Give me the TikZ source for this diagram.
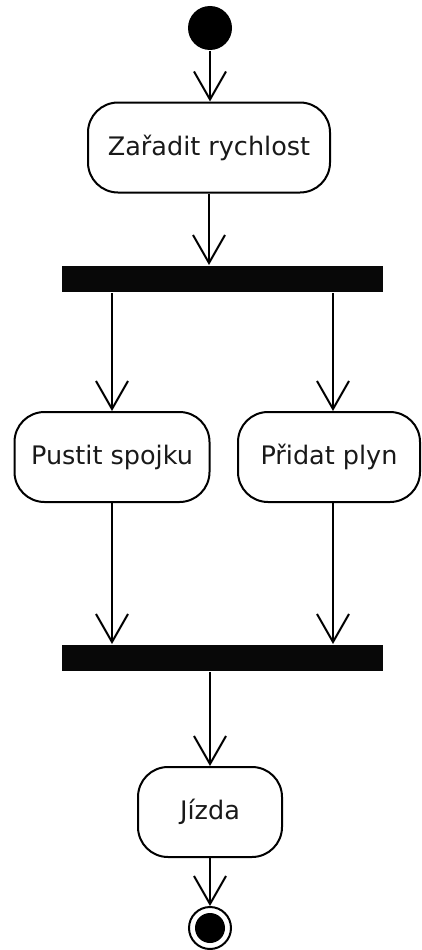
\documentclass[tikz,border=0pt]{standalone}
\usepackage{fontspec}
\setmainfont{DejaVu Sans}
\usepackage{tikz}
\usepackage{xcolor}
\usetikzlibrary{arrows.meta}

\begin{document}
\begin{tikzpicture}[x={1pt}, y={-1pt}, line width={2pt},
		action/.style={draw, fill={white}, rounded corners={30pt}, minimum height={90pt}, inner sep={0pt},
			text={TEXT_GRAY}, font={\fontsize{25.5}{30}\selectfont}},
		bar/.style={fill={BAR_BLACK}, minimum width={321pt}, minimum height={26pt}, inner sep={0pt}},
		flow/.style={-{Straight Barb[length={28pt}, width={32pt}]}}]
				\definecolor{BAR_BLACK}{RGB}{8, 8, 8}
				\definecolor{TEXT_GRAY}{RGB}{25, 25, 25}
				\useasboundingbox (0, 0) rectangle (421, 950);

				\node[circle, fill={black}, minimum size={44pt}, inner sep={0pt}] (start) at (210, 28) {};
				\node[action, minimum width={242pt}] (zaradit) at (209, 147.5) {Zařadit rychlost};
				\node[bar] (fork) at (222.5, 279) {};
				\node[action, minimum width={195pt}] (pustit) at (112, 457) {Pustit spojku};
				\node[action, minimum width={182pt}] (pridat) at (329, 457) {Přidat plyn};
				\node[bar] (join) at (222.5, 658) {};
				\node[action, minimum width={144pt}] (jizda) at (210, 812) {Jízda};
				\node[circle, draw, minimum size={42pt}, inner sep={0pt}] (end) at (210, 928) {};
				\fill (end.center) circle (15pt);

				\draw[flow] (start) -- (start |- zaradit.north);
				\draw[flow] (zaradit) -- (zaradit |- fork.north);
				\draw[flow] (pustit.north |- fork.south) -- (pustit.north);
				\draw[flow] ([xshift={4pt}]pridat.north |- fork.south) -- ([xshift={4pt}]pridat.north);
				\draw[flow] (pustit) -- (pustit.south |- join.north);
				\draw[flow] ([xshift={4pt}]pridat.south) -- ([xshift={4pt}]pridat.south |- join.north);
				\draw[flow] (jizda.north |- join.south) -- (jizda.north);
				\draw[flow] (jizda) -- (end);
			\end{tikzpicture}
\end{document}
